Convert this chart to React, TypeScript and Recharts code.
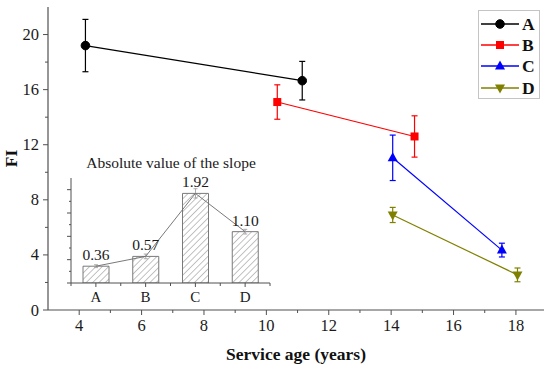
import React from 'react';
import {
  LineChart,
  ComposedChart,
  Line,
  Bar,
  XAxis,
  YAxis,
  ErrorBar,
  Legend,
  LabelList,
  Label,
} from 'recharts';

// ---------- data ----------
const seriesNames = ['A', 'B', 'C', 'D'];
const seriesColors = ['#000000', '#ff0000', '#0000ff', '#808000'];
const seriesShapes = ['circle', 'square', 'triangle', 'triangleDown'];

const ageA = [4.2, 11.15];
const fiA = [19.2, 16.65];
const errA = [1.9, 1.4];

const ageB = [10.35, 14.75];
const fiB = [15.1, 12.6];
const errB = [1.25, 1.5];

const ageC = [14.05, 17.55];
const fiC = [11.05, 4.35];
const errC = [1.65, 0.5];

const ageD = [14.05, 18.05];
const fiD = [6.9, 2.55];
const errD = [0.55, 0.5];

const xTicks = [4, 5, 6, 7, 8, 9, 10, 11, 12, 13, 14, 15, 16, 17, 18];
const yTicks = [0, 2, 4, 6, 8, 10, 12, 14, 16, 18, 20];

const insetCategories = ['A', 'B', 'C', 'D'];
const insetSlopes = [0.36, 0.57, 1.92, 1.1];
const insetErrors = [0.03, 0.05, 0.1, 0.05];
const insetXTicks = [-0.5, 0, 0.5, 1, 1.5, 2, 2.5, 3, 3.5];
const insetYTicks = [0, 0.25, 0.5, 0.75, 1, 1.25, 1.5, 1.75, 2];

// ---------- derived ----------
const build = (xs: number[], ys: number[], es: number[]) =>
  xs.map((x, i) => ({ x, y: ys[i], err: es[i] }));

const seriesData = [
  build(ageA, fiA, errA),
  build(ageB, fiB, errB),
  build(ageC, fiC, errC),
  build(ageD, fiD, errD),
];

const insetData = insetCategories.map((c, i) => ({
  idx: i,
  name: c,
  slope: insetSlopes[i],
  err: insetErrors[i],
}));

const FONT = '"Liberation Serif", "Times New Roman", serif';
const AXIS = '#505050';
const serif = (size: number, bold = false): React.CSSProperties => ({
  fontFamily: FONT,
  fontSize: size,
  fontWeight: bold ? 'bold' : 'normal',
});

function Marker({ shape, cx, cy, color }: any) {
  if (cx == null || cy == null) return null;
  switch (shape) {
    case 'circle':
      return <circle cx={cx} cy={cy} r={4.3} fill={color} stroke={color} />;
    case 'square':
      return <rect x={cx - 4} y={cy - 4} width={8} height={8} fill={color} />;
    case 'triangle':
      return (
        <path
          d={`M${cx},${cy - 5.5}L${cx + 5},${cy + 3.5}L${cx - 5},${cy + 3.5}Z`}
          fill={color}
        />
      );
    default:
      return (
        <path
          d={`M${cx},${cy + 5.5}L${cx + 5},${cy - 3.5}L${cx - 5},${cy - 3.5}Z`}
          fill={color}
        />
      );
  }
}

const XTick = (props: any) => {
  const { x, y, payload } = props;
  const v = payload.value;
  const major = v % 2 === 0;
  return (
    <g>
      <line x1={x} y1={y} x2={x} y2={y + (major ? 5 : 3)} stroke={AXIS} />
      {major && (
        <text x={x} y={y + 21} textAnchor="middle" style={serif(16.5)} fill="#1a1a1a">
          {v}
        </text>
      )}
    </g>
  );
};

const YTick = (props: any) => {
  const { x, y, payload } = props;
  const v = payload.value;
  const major = v % 4 === 0;
  return (
    <g>
      <line x1={x - (major ? 5 : 3)} y1={y} x2={x} y2={y} stroke={AXIS} />
      {major && (
        <text x={x - 9} y={y + 5.5} textAnchor="end" style={serif(16.5)} fill="#1a1a1a">
          {v}
        </text>
      )}
    </g>
  );
};

const InsetXTick = (props: any) => {
  const { x, y, payload } = props;
  const v = payload.value;
  const isCat = Number.isInteger(v);
  return (
    <g>
      <line x1={x} y1={y} x2={x} y2={y + (isCat ? 4 : 3)} stroke={AXIS} />
      {isCat && (
        <text x={x} y={y + 18.5} textAnchor="middle" style={serif(15)} fill="#1a1a1a">
          {insetCategories[v]}
        </text>
      )}
    </g>
  );
};

const InsetYTick = (props: any) => {
  const { x, y, payload } = props;
  const v = payload.value;
  const major = Math.abs(v * 2 - Math.round(v * 2)) < 1e-6;
  return <line x1={x - (major ? 4 : 2)} y1={y} x2={x} y2={y} stroke={AXIS} />;
};

const LegendBox = () => (
  <div
    style={{
      border: '1px solid #c4c4c4',
      background: '#fff',
      padding: '2px 0 0 1px',
      width: 59,
      boxSizing: 'content-box',
    }}
  >
    {seriesNames.map((n, i) => (
      <div key={n} style={{ display: 'flex', alignItems: 'center', height: 21.3 }}>
        <svg width={40} height={20} style={{ display: 'block' }}>
          <line x1={1} y1={10} x2={39} y2={10} stroke={seriesColors[i]} strokeWidth={1.3} />
          <Marker shape={seriesShapes[i]} cx={20} cy={10} color={seriesColors[i]} />
        </svg>
        <span
          style={{
            ...serif(17.5, true),
            marginLeft: 2,
            color: '#111',
            lineHeight: '20px',
          }}
        >
          {n}
        </span>
      </div>
    ))}
  </div>
);

export default function App() {
  return (
    <div
      style={{
        position: 'absolute',
        left: 0,
        top: 0,
        width: 550,
        height: 367,
        background: '#fff',
        overflow: 'hidden',
        fontFamily: FONT,
      }}
    >
      <LineChart
        width={550}
        height={367}
        margin={{ top: 7, right: 6, left: 0, bottom: 0 }}
        style={{ fontFamily: FONT }}
      >
        <XAxis
          dataKey="x"
          type="number"
          domain={[3, 18.9]}
          ticks={xTicks}
          interval={0}
          allowDataOverflow
          height={57}
          tickSize={0}
          tickMargin={0}
          tickLine={false}
          tick={<XTick />}
          axisLine={{ stroke: AXIS, strokeWidth: 1.2 }}
        >
          <Label
            content={(p: any) => {
              const vb = p.viewBox || { x: 48, y: 310, width: 496, height: 57 };
              return (
                <text
                  x={vb.x + vb.width / 2}
                  y={vb.y + vb.height - 7.5}
                  textAnchor="middle"
                  style={serif(17.5, true)}
                  fill="#111"
                >
                  Service age (years)
                </text>
              );
            }}
          />
        </XAxis>
        <XAxis
          xAxisId="top"
          orientation="top"
          type="number"
          domain={[3, 18.9]}
          height={0}
          tick={false}
          tickLine={false}
          axisLine={{ stroke: '#8a8a8a', strokeWidth: 1.2 }}
        />
        <YAxis
          type="number"
          domain={[0, 22]}
          ticks={yTicks}
          interval={0}
          allowDataOverflow
          width={48}
          tickSize={0}
          tickMargin={0}
          tickLine={false}
          tick={<YTick />}
          axisLine={{ stroke: AXIS, strokeWidth: 1.2 }}
        >
          <Label
            content={(p: any) => {
              const vb = p.viewBox || { x: 0, y: 7, width: 48, height: 303 };
              const cx = vb.x + 11;
              const cy = vb.y + vb.height / 2;
              return (
                <text
                  transform={`translate(${cx},${cy}) rotate(-90)`}
                  textAnchor="middle"
                  dominantBaseline="central"
                  style={serif(17.5, true)}
                  fill="#111"
                >
                  FI
                </text>
              );
            }}
          />
        </YAxis>
        <YAxis
          yAxisId="right"
          orientation="right"
          type="number"
          domain={[0, 22]}
          width={0}
          tick={false}
          tickLine={false}
          axisLine={{ stroke: '#8a8a8a', strokeWidth: 1.2 }}
        />
        {seriesNames.map((n, i) => (
          <Line
            key={n}
            name={n}
            data={seriesData[i]}
            dataKey="y"
            stroke={seriesColors[i]}
            strokeWidth={1.2}
            isAnimationActive={false}
            dot={(p: any) => (
              <Marker
                key={`${n}-${p.index}`}
                shape={seriesShapes[i]}
                cx={p.cx}
                cy={p.cy}
                color={seriesColors[i]}
              />
            )}
            activeDot={false}
          >
            <ErrorBar dataKey="err" direction="y" width={3} stroke={seriesColors[i]} strokeWidth={1.2} />
          </Line>
        ))}
        <Legend
          layout="vertical"
          align="center"
          verticalAlign="middle"
          content={() => <LegendBox />}
          wrapperStyle={{ position: 'absolute', left: 478, top: 10, width: 'auto', height: 'auto' }}
        />
      </LineChart>

      <div
        style={{
          position: 'absolute',
          left: 71,
          width: 200,
          top: 154,
          textAlign: 'center',
          ...serif(15.5),
          lineHeight: '18px',
          color: '#1a1a1a',
          whiteSpace: 'nowrap',
        }}
      >
        Absolute value of the slope
      </div>

      <div style={{ position: 'absolute', left: 40, top: 150 }}>
        <ComposedChart
          width={240}
          height={160}
          data={insetData}
          margin={{ top: 28, right: 10, left: 0, bottom: 0 }}
          style={{ fontFamily: FONT }}
        >
          <defs>
            <pattern
              id="hatch"
              patternUnits="userSpaceOnUse"
              width={4.5}
              height={4.5}
              patternTransform="rotate(45)"
            >
              <rect x={0} y={0} width={4.5} height={4.5} fill="#fff" />
              <line x1={0} y1={0} x2={0} y2={4.5} stroke="#9a9a9a" strokeWidth={1.2} />
            </pattern>
          </defs>
          <XAxis
            dataKey="idx"
            type="number"
            domain={[-0.5, 3.5]}
            ticks={insetXTicks}
            interval={0}
            allowDataOverflow
            height={27}
            tickSize={0}
            tickMargin={0}
            tickLine={false}
            tick={<InsetXTick />}
            axisLine={{ stroke: AXIS }}
          />
          <YAxis
            type="number"
            domain={[0, 2.25]}
            ticks={insetYTicks}
            interval={0}
            allowDataOverflow
            width={31}
            tickSize={0}
            tickMargin={0}
            tickLine={false}
            tick={<InsetYTick />}
            axisLine={{ stroke: AXIS }}
          />
          <Bar
            dataKey="slope"
            barSize={26}
            fill="url(#hatch)"
            stroke="#7a7a7a"
            strokeWidth={1}
            isAnimationActive={false}
          >
            <ErrorBar dataKey="err" direction="y" width={2} stroke="#aaaaaa" strokeWidth={1} />
            <LabelList
              dataKey="slope"
              position="top"
              offset={6}
              formatter={(v: any) => Number(v).toFixed(2)}
              style={serif(15.5)}
              fill="#1a1a1a"
            />
          </Bar>
          <Line
            dataKey="slope"
            stroke="#6a6a6a"
            strokeWidth={0.9}
            dot={false}
            activeDot={false}
            isAnimationActive={false}
          />
        </ComposedChart>
      </div>
    </div>
  );
}
